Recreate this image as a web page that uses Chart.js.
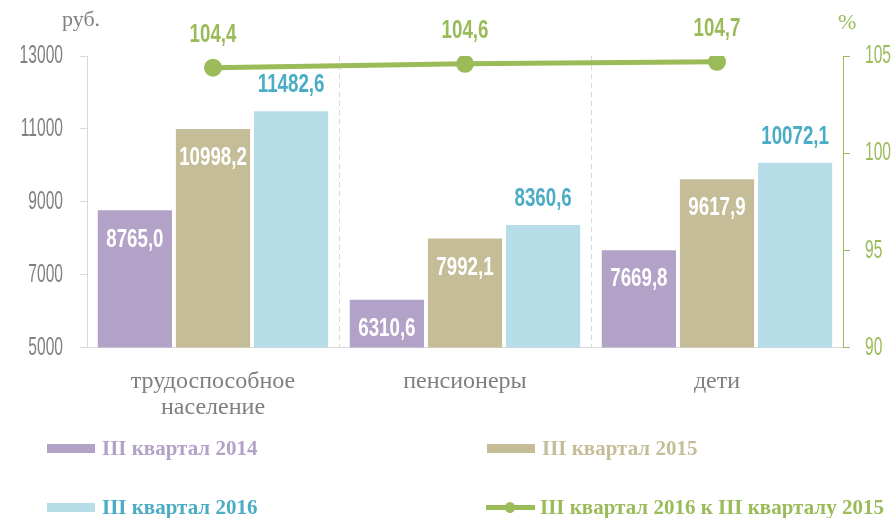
<!DOCTYPE html>
<html>
<head>
<meta charset="utf-8">
<script src="https://cdn.jsdelivr.net/npm/chart.js@4"></script>
<style>
  html, body { margin: 0; padding: 0; background: #fff; }
  #wrap { position: relative; width: 893px; height: 518px; }
  canvas { position: absolute; left: 0; top: 0; }
  .unit { position: absolute; font-family: "Liberation Serif", serif; font-size: 22px; }
  .legend { position: absolute; font-family: "Liberation Serif", serif; font-weight: bold; font-size: 21px; white-space: nowrap; line-height: 24px; }
  .legend .box { display: inline-block; width: 48px; height: 9px; vertical-align: middle; margin-right: 7px; position: relative; top: -2px; }
  .legend .ln { display: inline-block; width: 49px; height: 5px; background: #9bbb59; vertical-align: middle; margin-right: 5px; position: relative; top: -2px; }
  .legend .ln i { position: absolute; left: 19px; top: -3px; width: 10px; height: 11px; border-radius: 50%; background: #9bbb59; }
</style>
</head>
<body>
<div id="wrap">
  <canvas id="chart" width="893" height="518"></canvas>
  <div class="unit" style="left:62px;top:6px;color:#7f7f7f;">руб.</div>
  <div class="unit" style="left:838px;top:9px;color:#9bbb59;">%</div>
  <div class="legend" style="left:47px;top:436px;color:#b3a2c7;"><span class="box" style="background:#b3a2c7"></span>III квартал 2014</div>
  <div class="legend" style="left:487px;top:436px;color:#c4bd97;"><span class="box" style="background:#c4bd97"></span>III квартал 2015</div>
  <div class="legend" style="left:47px;top:495px;color:#4bacc6;"><span class="box" style="background:#b7dee8"></span>III квартал 2016</div>
  <div class="legend" style="left:486px;top:495px;color:#9bbb59;"><span class="ln"><i></i></span>III квартал 2016 к III кварталу 2015</div>
</div>
<script>
// категории и значения
const categories = [['трудоспособное', 'население'], 'пенсионеры', 'дети'];
const q3_2014 = [8765.0, 6310.6, 7669.8];
const q3_2015 = [10998.2, 7992.1, 9617.9];
const q3_2016 = [11482.6, 8360.6, 10072.1];
const growth = [104.4, 104.6, 104.7];

const narrowFont = '"Liberation Sans", "DejaVu Sans", sans-serif';

function fmt(v) {
    return v.toFixed(1).replace('.', ',');
}

// узкий текст: шрифт сжимается по горизонтали
function drawNarrow(ctx, text, x, y, align, sx) {
    ctx.save();
    ctx.translate(x, y);
    ctx.scale(sx, 1);
    ctx.textAlign = align;
    ctx.fillText(text, 0, 0);
    ctx.restore();
}

// подписи значений поверх столбцов и точек
const valueLabels = {
    id: 'valueLabels',
    afterDatasetsDraw(chart) {
        const ctx = chart.ctx;
        ctx.save();
        ctx.font = 'bold 26px ' + narrowFont;
        ctx.textBaseline = 'middle';
        chart.data.datasets.forEach((ds, i) => {
            const meta = chart.getDatasetMeta(i);
            meta.data.forEach((el, j) => {
                let y;
                if (ds.type === 'line') {
                    y = el.y - 33;
                    ctx.fillStyle = '#9bbb59';
                } else if (i === 3) {
                    y = el.y - 26;
                    ctx.fillStyle = '#4bacc6';
                } else {
                    y = el.y + 29;
                    ctx.fillStyle = '#ffffff';
                }
                drawNarrow(ctx, fmt(ds.data[j]), el.x, y, 'center', 0.72);
            });
        });
        ctx.restore();
    }
};

// подписи делений осей Y
const axisLabels = {
    id: 'axisLabels',
    afterDraw(chart) {
        const ctx = chart.ctx;
        ctx.save();
        ctx.font = '26px ' + narrowFont;
        ctx.textBaseline = 'middle';
        const y = chart.scales.y;
        ctx.fillStyle = '#808080';
        y.ticks.forEach(t => {
            drawNarrow(ctx, String(t.value), y.right - 24, y.getPixelForValue(t.value), 'right', 0.6);
        });
        const y1 = chart.scales.y1;
        ctx.fillStyle = '#9bbb59';
        y1.ticks.forEach(t => {
            drawNarrow(ctx, String(t.value), y1.left + 22, y1.getPixelForValue(t.value), 'left', 0.6);
        });
        ctx.restore();
    }
};

new Chart(document.getElementById('chart'), {
    data: {
        labels: categories,
        datasets: [
            {
                type: 'line',
                label: 'III квартал 2016 к III кварталу 2015',
                data: growth,
                yAxisID: 'y1',
                borderColor: '#9bbb59',
                backgroundColor: '#9bbb59',
                borderWidth: 5,
                pointRadius: 6.5,
                pointBackgroundColor: '#9bbb59',
                order: 0
            },
            {
                type: 'bar',
                label: 'III квартал 2014',
                data: q3_2014,
                backgroundColor: '#b3a2c7',
                yAxisID: 'y',
                order: 1
            },
            {
                type: 'bar',
                label: 'III квартал 2015',
                data: q3_2015,
                backgroundColor: '#c4bd97',
                yAxisID: 'y',
                order: 1
            },
            {
                type: 'bar',
                label: 'III квартал 2016',
                data: q3_2016,
                backgroundColor: '#b7dee8',
                yAxisID: 'y',
                order: 1
            }
        ]
    },
    options: {
        responsive: false,
        animation: false,
        datasets: {
            bar: { categoryPercentage: 0.93, barPercentage: 0.95 }
        },
        layout: { padding: { left: 80, right: 43, top: 56, bottom: 76 } },
        plugins: {
            legend: { display: false },
            tooltip: { enabled: false }
        },
        scales: {
            x: {
                grid: {
                    display: true,
                    offset: true,
                    drawTicks: false,
                    color: '#d9d9d9'
                },
                border: { display: true, color: '#d9d9d9', dash: [5, 4] },
                ticks: {
                    color: '#7f7f7f',
                    font: { family: '"Liberation Serif", serif', size: 24, lineHeight: 1.05 },
                    padding: 22
                }
            },
            y: {
                position: 'left',
                min: 5000,
                max: 13000,
                ticks: { stepSize: 2000, display: false },
                grid: { drawOnChartArea: false, color: '#d9d9d9', tickLength: 7 },
                border: { color: '#d9d9d9' }
            },
            y1: {
                position: 'right',
                min: 90,
                max: 105,
                ticks: { stepSize: 5, display: false },
                grid: { drawOnChartArea: false, color: '#9bbb59', tickLength: 7 },
                border: { color: '#9bbb59' }
            }
        }
    },
    plugins: [valueLabels, axisLabels]
});
</script>
</body>
</html>
